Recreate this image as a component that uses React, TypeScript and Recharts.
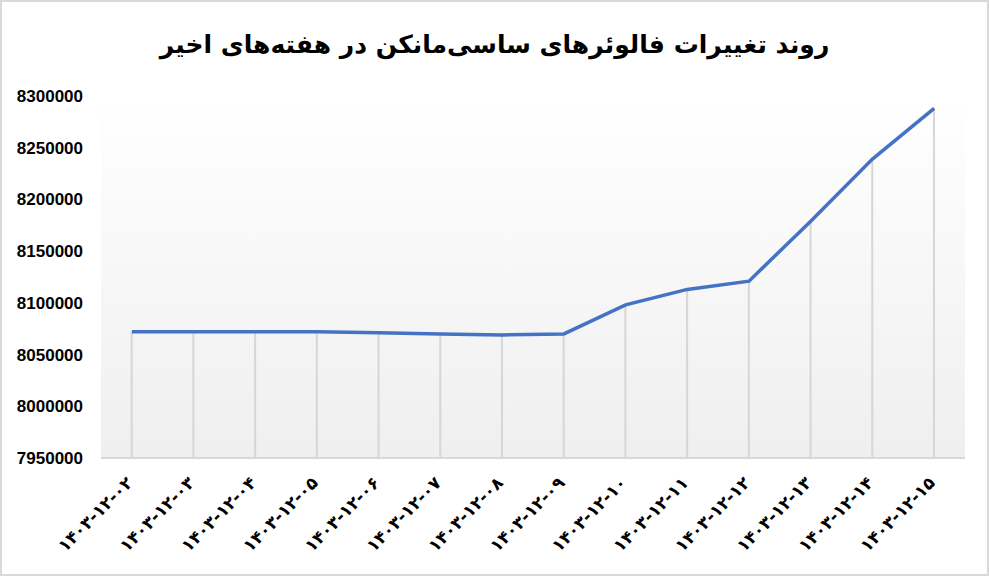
import React from "react";
import { ComposedChart, Line, Bar, XAxis, YAxis, CartesianGrid } from "recharts";

const dates = [
  "۱۴۰۳-۱۲-۰۲", "۱۴۰۳-۱۲-۰۳", "۱۴۰۳-۱۲-۰۴", "۱۴۰۳-۱۲-۰۵", "۱۴۰۳-۱۲-۰۶",
  "۱۴۰۳-۱۲-۰۷", "۱۴۰۳-۱۲-۰۸", "۱۴۰۳-۱۲-۰۹", "۱۴۰۳-۱۲-۱۰", "۱۴۰۳-۱۲-۱۱",
  "۱۴۰۳-۱۲-۱۲", "۱۴۰۳-۱۲-۱۳", "۱۴۰۳-۱۲-۱۴", "۱۴۰۳-۱۲-۱۵",
];
const followers = [
  8072000, 8072000, 8072000, 8072000, 8071000, 8070000, 8069000,
  8070000, 8098000, 8113000, 8121000, 8179000, 8239000, 8288000,
];
const yTicks = [7950000, 8000000, 8050000, 8100000, 8150000, 8200000, 8250000, 8300000];
const title = "روند تغییرات فالوئرهای ساسی‌مانکن در هفته‌های اخیر";

const data = dates.map((d, i) => ({ date: d, value: followers[i] }));

const DropLine = (props: any) => {
  const { x, y, width, height } = props;
  if (height == null || height <= 0) return null;
  const cx = x + width / 2;
  return <line x1={cx} x2={cx} y1={y} y2={y + height} stroke="#d6d6d6" strokeWidth={2} />;
};

const XTick = (props: any) => {
  const { x, y, payload } = props;
  return (
    <text
      transform={`translate(${x + 2}, ${y + 18}) rotate(-45)`}
      textAnchor="end"
      fontFamily="DejaVu Sans"
      fontWeight="bold"
      fontSize={17}
      fill="#000"
    >
      {payload.value}
    </text>
  );
};

export default function App() {
  return (
    <div
      style={{
        position: "absolute",
        left: 0,
        top: 0,
        width: 989,
        height: 576,
        background: "#fff",
        boxSizing: "border-box",
        border: "2px solid #d9d9d9",
        overflow: "hidden",
      }}
    >
      <div
        style={{
          position: "absolute",
          left: 0,
          top: 23,
          width: 985,
          textAlign: "center",
          direction: "rtl",
          fontFamily: "DejaVu Sans",
          fontWeight: "bold",
          fontSize: 25,
          color: "#000",
          lineHeight: "40px",
        }}
      >
        {title}
      </div>
      <div style={{ position: "absolute", left: -2, top: -2 }}>
        <ComposedChart
          width={989}
          height={576}
          data={data}
          margin={{ top: 96, right: 24, bottom: 0, left: 0 }}
        >
          <defs>
            <linearGradient id="plotGrad2" x1="0" y1="0" x2="0" y2="1">
              <stop offset="0%" stopColor="#ffffff" />
              <stop offset="100%" stopColor="#efefef" />
            </linearGradient>
          </defs>
          <CartesianGrid horizontal={false} vertical={false} fill="url(#plotGrad2)" stroke="none" />
          <XAxis
            dataKey="date"
            interval={0}
            tickLine={false}
            axisLine={{ stroke: "#d9d9d9", strokeWidth: 2 }}
            tick={<XTick />}
            height={118}
          />
          <YAxis
            domain={[7950000, 8300000]}
            ticks={yTicks}
            interval={0}
            width={101}
            axisLine={false}
            tickLine={false}
            tickSize={0}
            tickMargin={18}
            tick={{ fontFamily: "Liberation Sans", fontWeight: "bold", fontSize: 17, fill: "#000" }}
            allowDataOverflow
          />
          <Bar dataKey="value" shape={<DropLine />} isAnimationActive={false} />
          <Line
            type="linear"
            dataKey="value"
            stroke="#4472C4"
            strokeWidth={3.5}
            dot={false}
            activeDot={false}
            isAnimationActive={false}
          />
        </ComposedChart>
      </div>
    </div>
  );
}
